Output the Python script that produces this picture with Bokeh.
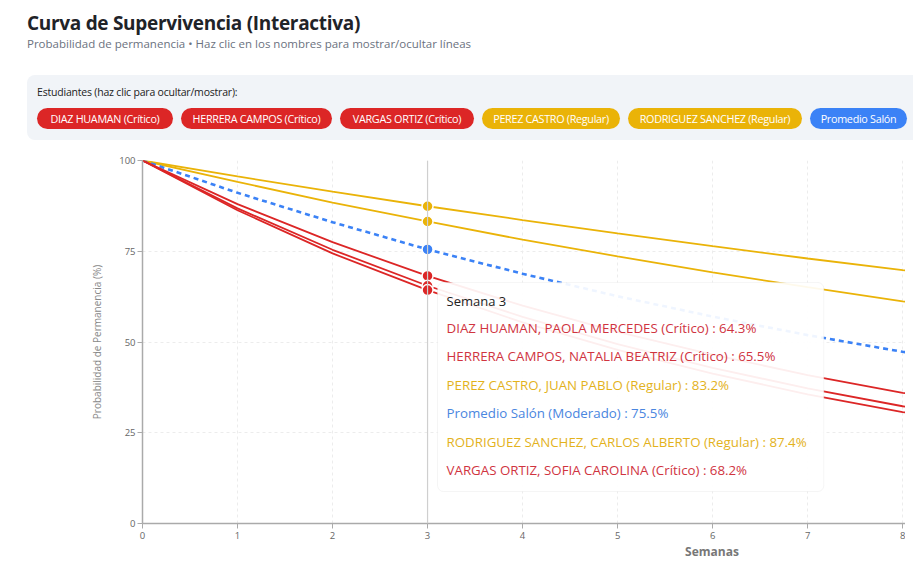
from bokeh.plotting import figure
from bokeh.models import Div, Label, BoxAnnotation, Span, ColumnDataSource, Range1d, FixedTicker
from bokeh.layouts import column
from bokeh.embed import file_html
from bokeh.resources import INLINE

weeks = [0, 1, 2, 3, 4, 5, 6, 7, 8, 9]
rodriguez = [100, 95.6, 91.4, 87.4, 83.6, 79.9, 76.4, 73.0, 69.8, 66.8]
perez = [100, 94.1, 88.4, 83.2, 78.2, 73.6, 69.2, 65.1, 61.2, 57.6]
promedio = [100, 91.1, 83.0, 75.5, 68.8, 62.6, 57.0, 51.9, 47.3, 43.1]
vargas = [100, 88.0, 77.5, 68.2, 60.0, 52.8, 46.5, 40.9, 36.0, 31.7]
herrera = [100, 86.8, 75.4, 65.5, 56.9, 49.4, 42.9, 37.2, 32.3, 28.1]
diaz = [100, 86.3, 74.4, 64.3, 55.4, 47.8, 41.3, 35.6, 30.7, 26.5]

y_ticks = [0, 25, 50, 75, 100]
x_ticks = [0, 1, 2, 3, 4, 5, 6, 7, 8]
hover_week = 3

RED = "#dc2626"
YELLOW = "#eab308"
BLUE = "#3b82f6"

pills = [
    ("DIAZ HUAMAN (Crítico)", RED, 136),
    ("HERRERA CAMPOS (Crítico)", RED, 151),
    ("VARGAS ORTIZ (Crítico)", RED, 134),
    ("PEREZ CASTRO (Regular)", YELLOW, 138),
    ("RODRIGUEZ SANCHEZ (Regular)", YELLOW, 174),
    ("Promedio Salón", BLUE, 97),
]

tooltip_lines = [
    ("DIAZ HUAMAN, PAOLA MERCEDES (Crítico) : 64.3%", "#d0343f"),
    ("HERRERA CAMPOS, NATALIA BEATRIZ (Crítico) : 65.5%", "#d0343f"),
    ("PEREZ CASTRO, JUAN PABLO (Regular) : 83.2%", "#e3b21c"),
    ("Promedio Salón (Moderado) : 75.5%", "#4a86e0"),
    ("RODRIGUEZ SANCHEZ, CARLOS ALBERTO (Regular) : 87.4%", "#e3b21c"),
    ("VARGAS ORTIZ, SOFIA CAROLINA (Crítico) : 68.2%", "#d0343f"),
]

FONT = "Open Sans"

pill_html = "".join(
    f'<span style="display:inline-block;box-sizing:border-box;width:{w}px;height:21px;line-height:21px;'
    f'margin-right:8px;border-radius:11px;background:{c};color:white;font-size:10.8px;text-align:center;'
    f'white-space:nowrap;overflow:hidden;letter-spacing:-0.3px;">{t}</span>'
    for t, c, w in pills
)

header = Div(
    width=905, height=142,
    text=(
        f'<div style="position:relative;width:905px;height:142px;font-family:\'{FONT}\',sans-serif;">'
        '<div style="position:absolute;left:22px;top:5px;font-size:19px;font-weight:700;color:#1f2328;'
        'letter-spacing:-0.3px;white-space:nowrap;">Curva de Supervivencia (Interactiva)</div>'
        '<div style="position:absolute;left:22px;top:31px;font-size:11.5px;color:#6b7280;white-space:nowrap;">'
        'Probabilidad de permanencia • Haz clic en los nombres para mostrar/ocultar líneas</div>'
        '<div style="position:absolute;left:22px;top:70px;width:900px;height:65px;background:#f1f4f8;'
        'border-radius:8px;">'
        '<div style="position:absolute;left:10px;top:10px;font-size:10.5px;color:#222;white-space:nowrap;'
        'letter-spacing:-0.2px;">Estudiantes (haz clic para ocultar/mostrar):</div>'
        f'<div style="position:absolute;left:10px;top:33px;white-space:nowrap;">{pill_html}</div>'
        '</div></div>'
    ),
)

p = figure(
    width=905, height=393, output_backend="svg", toolbar_location=None,
    x_range=Range1d(0, 8.03), y_range=Range1d(0, 100),
    min_border_left=142, min_border_right=0, min_border_top=8, min_border_bottom=22,
)
p.outline_line_color = None
p.background_fill_color = "white"

p.xaxis.ticker = FixedTicker(ticks=x_ticks)
p.yaxis.ticker = FixedTicker(ticks=y_ticks)
for ax in (p.xaxis[0], p.yaxis[0]):
    ax.axis_line_color = "#aaaaaa"
    ax.axis_line_width = 1.5
    ax.major_tick_line_color = "#aaaaaa"
    ax.major_tick_in = 0
    ax.major_tick_out = 5
    ax.minor_tick_line_color = None
    ax.major_label_text_font = FONT
    ax.major_label_text_font_size = "9.5px"
    ax.major_label_text_color = "#666666"
p.xaxis.major_label_standoff = 3
p.yaxis.major_label_standoff = 2
p.yaxis.axis_label = "Probabilidad de Permanencia (%)"
p.yaxis.axis_label_text_font = FONT
p.yaxis.axis_label_text_font_size = "10px"
p.yaxis.axis_label_text_font_style = "normal"
p.yaxis.axis_label_text_color = "#888888"
p.yaxis.axis_label_standoff = 12
p.xaxis.axis_label = None

p.xgrid.grid_line_color = "#ececec"
p.ygrid.grid_line_color = "#ececec"
p.xgrid.grid_line_dash = "3 3"
p.ygrid.grid_line_dash = "3 3"

p.add_layout(Span(location=hover_week, dimension="height", line_color="#cfcfcf", line_width=1.2))

series = [
    (rodriguez, YELLOW, "solid"),
    (perez, YELLOW, "solid"),
    (promedio, BLUE, "5 4"),
    (vargas, RED, "solid"),
    (herrera, RED, "solid"),
    (diaz, RED, "solid"),
]
for vals, col, dash in series:
    src = ColumnDataSource(dict(x=weeks, y=vals))
    w = 2.6 if dash != "solid" else 1.8
    p.line("x", "y", source=src, line_color=col, line_width=w, line_dash=dash)

for vals, col, dash in series:
    idx = weeks.index(hover_week)
    p.scatter([weeks[idx]], [vals[idx]], size=11, fill_color=col, line_color="white", line_width=1.5)

# tooltip box
p.add_layout(BoxAnnotation(left=3.105, right=7.17, bottom=8.8, top=66.4,
                           fill_color="white", fill_alpha=0.92, line_color="#dddddd",
                           line_width=1, border_radius=6, level="overlay"))
p.add_layout(Label(x=3.2, y=(523 - 300) / 3.63, text=f"Semana {hover_week}", text_font=FONT,
                   text_font_size="13px", text_color="#222222", text_baseline="middle", level="overlay"))
for i, (t, c) in enumerate(tooltip_lines):
    ypix = 327 + i * 28.5
    p.add_layout(Label(x=3.2, y=(523 - ypix) / 3.63, text=t, text_font=FONT,
                       text_font_size="13.3px", text_color=c, text_baseline="middle", level="overlay"))

footer = Div(
    width=905, height=14,
    text=(
        f'<div style="position:relative;width:905px;height:14px;font-family:\'{FONT}\',sans-serif;">'
        '<div style="position:absolute;left:657px;top:-5px;width:100px;text-align:center;font-size:12px;'
        'line-height:14px;font-weight:700;color:#777777;white-space:nowrap;">Semanas</div></div>'
    ),
)

layout = column(header, p, footer, spacing=0)
open("out.html", "w").write(file_html(layout, INLINE))
